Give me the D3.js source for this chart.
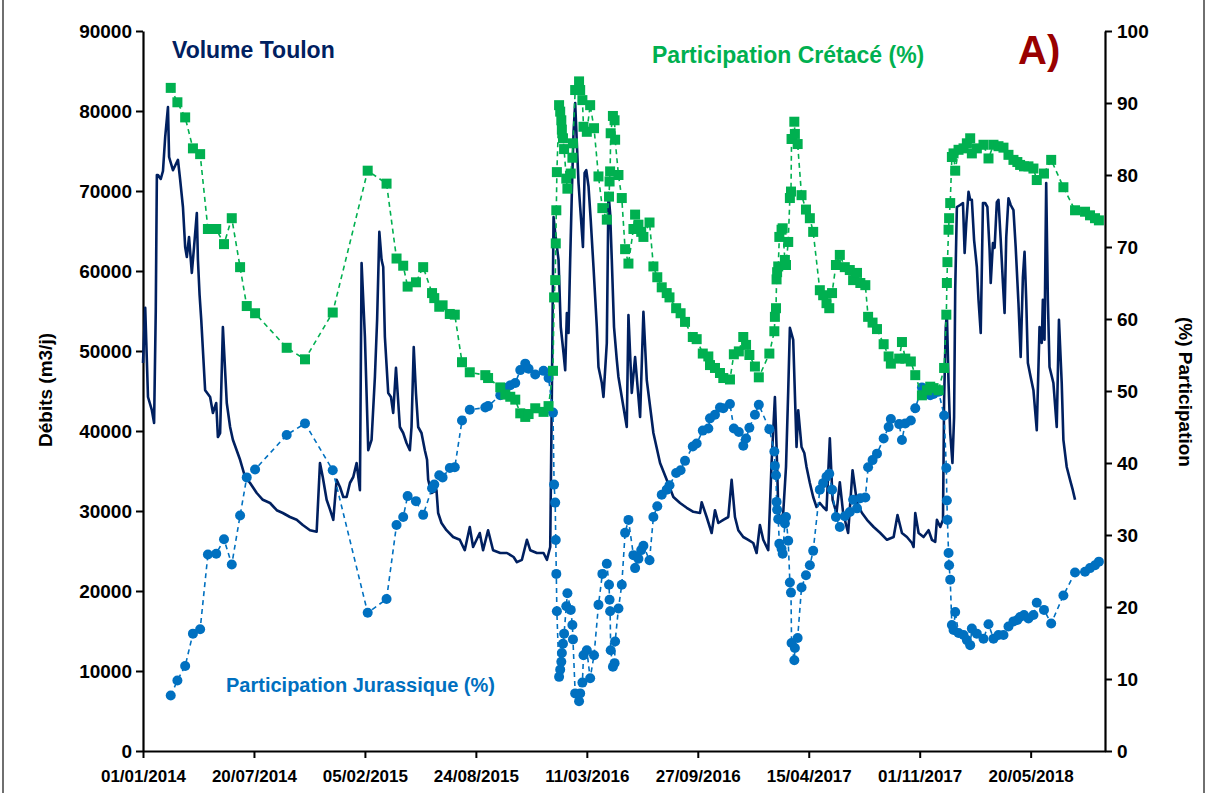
<!DOCTYPE html>
<html>
<head>
<meta charset="utf-8">
<script src="https://cdn.jsdelivr.net/npm/d3@7"></script>
<style>
  body { margin: 0; background: #fff; }
  svg text { font-family: "Liberation Sans", Arial, sans-serif; font-weight: bold; }
</style>
</head>
<body>
<svg id="chart" width="1208" height="793"></svg>
<script>
// jours depuis le 01/01/2014
var joursVolume = [0,4,9,16,20,23,25,27,32,36,40,45,47,54,63,67,72,76,79,83,88,92,97,99,102,105,112,121,126,132,135,139,144,151,157,162,175,184,193,205,216,229,241,252,265,277,288,301,313,319,324,331,337,343,349,355,361,367,373,379,385,391,394,400,406,412,418,422,426,430,433,436,442,447,451,456,459,463,469,475,481,484,488,492,496,502,508,512,514,520,529,532,538,547,559,571,580,589,595,607,613,622,631,644,656,668,674,683,692,698,710,722,728,734,737,740,743,749,753,758,761,764,767,770,773,776,779,782,785,788,793,796,799,803,807,812,818,821,827,830,836,839,842,845,849,854,857,866,872,875,881,887,896,902,908,920,932,944,956,968,980,992,1004,1007,1016,1025,1031,1037,1046,1055,1061,1067,1073,1082,1091,1100,1106,1112,1118,1127,1133,1139,1142,1145,1148,1154,1159,1163,1166,1172,1178,1181,1187,1192,1196,1202,1208,1214,1220,1226,1232,1238,1243,1250,1256,1262,1271,1279,1287,1296,1305,1317,1329,1341,1353,1360,1368,1377,1386,1389,1392,1398,1407,1416,1422,1428,1431,1437,1442,1444,1447,1449,1452,1455,1459,1462,1464,1467,1473,1478,1481,1484,1488,1491,1494,1498,1503,1506,1510,1514,1518,1522,1526,1528,1532,1535,1539,1542,1546,1550,1553,1556,1560,1564,1569,1573,1578,1582,1586,1589,1592,1595,1600,1605,1611,1616,1620,1622,1625,1628,1631,1634,1641,1647,1651,1656,1659,1665,1671,1676,1680];
var volumeToulon = [48500,55400,44250,42600,41000,55000,72000,72000,71500,72500,76750,80500,74250,72600,73900,71400,68000,63000,61750,64250,59750,63000,67250,61400,57000,53900,45100,44250,42250,43500,39250,39750,53000,43500,40500,38900,36400,34250,33500,32250,31400,31000,30100,29750,29250,28900,28250,27600,27400,36000,34250,31400,30200,28900,33900,33000,31750,31750,33500,34250,36000,32600,61000,51750,37600,38900,46750,53900,64900,61400,60500,51750,44750,44250,42250,47900,44750,40500,39750,38500,37600,40500,50500,44750,40500,39750,37600,36400,33900,32250,32600,29750,28500,27600,26750,26400,25100,28000,25500,27250,25100,27600,25100,24750,24750,24250,23600,23900,26400,25100,24750,24750,23900,25500,45000,66750,64750,61400,53000,49750,47600,54750,52250,61400,69750,77250,81000,76000,71000,68000,63000,72250,72600,70600,66400,60500,53000,48000,46000,44250,51000,69750,67250,61400,53000,48900,46750,43000,40500,54500,44750,49250,41750,54900,46400,39750,36000,33900,31750,31000,30400,29900,29750,31100,29250,27250,30100,28500,28900,29250,33900,29250,27600,26750,26400,26000,24750,28250,26400,25100,36000,44250,38000,30500,28500,29750,35500,45000,52900,51400,38000,42600,38000,37250,35500,33500,31750,30500,31000,30500,30100,39100,31400,29750,33600,29750,27250,35100,31000,29750,28900,28000,27250,26400,26750,29500,27250,26750,26000,25500,29750,27250,26750,27600,26400,26150,28900,28000,28900,43900,53000,54750,46000,39750,36000,41750,57600,68000,68250,68500,62250,66000,69900,68900,68900,63900,60500,56400,52250,68500,68500,68000,62600,58500,63500,62900,68600,68900,63900,58500,54750,64250,69100,68250,67600,63000,56000,49250,59250,62400,56400,48500,46750,45100,40100,53000,51000,56400,51400,71000,56400,48000,46000,40500,53900,46000,38900,35500,33900,32600,31400];

var joursPart = [50,62,76,90,103,117,132,146,160,175,187,202,259,292,342,405,439,457,469,477,492,505,521,525,534,540,553,562,575,589,617,622,644,653,662,671,680,689,695,707,722,731,739,741,743,744,745,746,750,752,754,755,757,759,763,765,771,774,775,779,786,788,792,794,800,806,813,821,828,836,840,841,842,843,847,850,851,857,863,869,875,884,887,893,898,902,913,920,927,935,944,949,961,969,977,991,998,1009,1019,1022,1031,1040,1046,1058,1065,1074,1082,1087,1093,1103,1110,1129,1138,1139,1141,1142,1143,1145,1147,1151,1153,1157,1159,1163,1166,1168,1169,1174,1175,1180,1187,1195,1202,1208,1220,1226,1232,1237,1242,1249,1256,1265,1274,1280,1287,1293,1302,1307,1315,1323,1335,1344,1348,1363,1368,1374,1384,1392,1404,1413,1419,1425,1434,1444,1448,1449,1450,1452,1453,1455,1458,1461,1464,1470,1479,1485,1491,1494,1503,1515,1524,1533,1542,1551,1560,1569,1576,1581,1588,1596,1605,1611,1624,1637,1659,1680,1698,1707,1716,1723];
var partCretace = [92.1,90.1,88.0,83.7,82.9,72.5,72.5,70.4,74.0,67.2,61.8,60.8,56.0,54.4,60.9,80.6,78.8,68.4,67.4,64.5,65.1,67.2,63.6,62.9,61.7,61.9,60.7,60.6,54.0,52.6,52.2,51.8,50.5,49.5,49.2,48.8,46.9,46.4,46.8,47.6,47.1,47.9,52.8,63.0,65.4,70.5,75.1,80.4,89.7,88.8,87.6,86.3,85.1,83.6,79.5,78.1,80.2,82.4,84.4,91.8,93.0,91.8,90.4,86.7,86.0,89.7,86.5,79.8,75.4,73.8,77.0,79.1,80.5,85.8,88.2,87.6,84.9,80.0,76.8,69.7,67.7,72.5,74.5,73.1,72.1,71.4,73.4,67.3,65.8,64.4,63.6,63.0,61.5,60.8,59.6,57.5,57.2,55.2,54.8,53.6,53.2,52.5,51.8,51.6,55.1,55.5,57.5,56.4,55.0,53.4,51.9,55.2,58.3,60.3,61.5,65.5,66.5,67.3,71.4,72.4,72.6,68.2,67.5,70.7,76.8,77.7,85.0,87.4,85.7,84.3,77.2,75.2,74.0,72.1,64.0,63.3,62.2,61.5,63.6,67.5,68.9,67.2,66.8,65.4,66.4,65.0,64.7,60.3,59.5,58.6,56.5,54.8,53.8,54.5,56.8,54.5,54.1,52.2,49.4,50.1,50.6,50.4,50.1,53.2,60.6,65.0,67.9,72.4,74.0,76.1,82.5,83.0,80.6,83.5,83.7,84.4,85.1,83.0,83.7,84.2,82.3,84.2,84.0,83.8,82.8,82.1,81.8,81.4,81.2,81.2,80.9,79.3,80.2,82.1,78.3,75.1,74.9,74.4,74.0,73.7];
var partJurassique = [7.7,9.8,11.8,16.3,16.9,27.3,27.4,29.4,25.9,32.7,38.0,39.1,43.9,45.5,39.0,19.2,21.1,31.4,32.5,35.4,34.7,32.8,36.5,37.0,38.3,38.0,39.3,39.4,45.9,47.4,47.7,47.9,49.4,50.4,50.8,51.1,52.9,53.8,53.1,52.3,52.8,51.8,47.0,37.0,34.5,29.3,24.6,19.4,10.3,11.3,12.4,13.6,14.9,16.3,20.1,21.9,19.6,17.5,15.5,8.0,6.9,8.0,9.5,13.3,14.0,10.1,13.3,20.3,24.6,26.0,23.1,21.0,19.4,14.0,11.7,12.2,15.2,19.8,23.1,30.3,32.1,27.2,25.4,26.7,27.9,28.5,26.5,32.5,34.0,35.6,36.3,36.9,38.6,39.0,40.3,42.3,42.7,44.5,44.8,46.2,46.7,47.7,47.6,48.2,44.8,44.3,42.4,43.4,44.9,46.7,48.1,44.7,41.6,39.6,38.3,34.6,33.5,32.2,28.8,28.1,27.4,31.6,32.5,29.2,23.4,22.0,15.0,12.6,14.3,15.7,22.7,24.4,25.8,27.8,36.3,37.2,38.1,38.5,36.3,32.5,31.1,32.6,33.2,34.9,33.7,35.1,35.2,39.4,40.4,41.3,43.4,45.0,46.1,45.4,43.2,45.5,45.9,47.6,50.5,49.9,49.4,49.6,49.9,46.6,39.3,34.8,32.1,27.5,25.8,23.8,17.5,16.8,19.3,16.4,16.1,15.4,14.7,17.0,16.3,15.6,17.6,15.6,16.1,16.1,17.3,18.0,18.2,18.6,18.9,18.4,18.9,20.6,19.6,17.7,21.6,24.8,24.9,25.4,25.8,26.3];

var ticksGauche = [0,10000,20000,30000,40000,50000,60000,70000,80000,90000];
var ticksDroite = [0,10,20,30,40,50,60,70,80,90,100];
var ticksJours = [0,200,400,600,800,1000,1200,1400,1600];

var debut = new Date(2014, 0, 1);
var jourEnDate = function(j) { return d3.timeDay.offset(debut, j); };

var margin = {left: 143, right: 103, top: 31, bottom: 42};
var W = 1208, H = 793;

var svg = d3.select("#chart");

// cadre du graphique
svg.append("rect")
  .attr("x", 3).attr("y", -5)
  .attr("width", 1201).attr("height", 803)
  .attr("fill", "none")
  .attr("stroke", "#404040")
  .attr("stroke-width", 1.5);

var x = d3.scaleTime()
  .domain([debut, jourEnDate(1734)])
  .range([margin.left, W - margin.right]);
var yG = d3.scaleLinear().domain([0, 90000]).range([H - margin.bottom, margin.top]);
var yD = d3.scaleLinear().domain([0, 100]).range([H - margin.bottom, margin.top]);

var fmt = d3.timeFormat("%d/%m/%Y");

// axes
var axeX = svg.append("g")
  .attr("transform", "translate(0," + (H - margin.bottom) + ")")
  .call(d3.axisBottom(x).tickValues(ticksJours.map(jourEnDate)).tickFormat(fmt).tickSize(7).tickSizeOuter(0));
axeX.selectAll("text").attr("y", 19).attr("dy", "0.71em").style("font-size", "17px").attr("fill", "#000");

var axeG = svg.append("g")
  .attr("transform", "translate(" + margin.left + ",0)")
  .call(d3.axisLeft(yG).tickValues(ticksGauche).tickFormat(d3.format("d")).tickSize(7).tickSizeOuter(0));
axeG.selectAll("text").attr("x", -11).style("font-size", "19px").attr("fill", "#000");

var axeD = svg.append("g")
  .attr("transform", "translate(" + (W - margin.right) + ",0)")
  .call(d3.axisRight(yD).tickValues(ticksDroite).tickSize(7).tickSizeOuter(0));
axeD.selectAll("text").attr("x", 12).style("font-size", "19px").attr("fill", "#000");

svg.selectAll(".domain").attr("stroke", "#000").attr("stroke-width", 2.2);
svg.selectAll(".tick line").attr("stroke", "#000").attr("stroke-width", 2);

// courbe de débit
var volume = joursVolume.map(function(j, i) { return {d: jourEnDate(j), v: volumeToulon[i]}; });
var lineV = d3.line().x(function(d) { return x(d.d); }).y(function(d) { return yG(d.v); });
svg.append("path")
  .datum(volume)
  .attr("d", lineV)
  .attr("fill", "none")
  .attr("stroke", "#002060")
  .attr("stroke-width", 2.6)
  .attr("stroke-linejoin", "round");

// participations
var part = joursPart.map(function(j, i) {
  return {d: jourEnDate(j), c: partCretace[i], j: partJurassique[i]};
});

var lineC = d3.line().x(function(d) { return x(d.d); }).y(function(d) { return yD(d.c); });
var lineJ = d3.line().x(function(d) { return x(d.d); }).y(function(d) { return yD(d.j); });

svg.append("path").datum(part).attr("d", lineJ)
  .attr("fill", "none").attr("stroke", "#0070C0")
  .attr("stroke-width", 1.6).attr("stroke-dasharray", "5,4");
svg.append("g").selectAll("circle").data(part).enter().append("circle")
  .attr("cx", function(d) { return x(d.d); })
  .attr("cy", function(d) { return yD(d.j); })
  .attr("r", 5)
  .attr("fill", "#0070C0");

svg.append("path").datum(part).attr("d", lineC)
  .attr("fill", "none").attr("stroke", "#00B050")
  .attr("stroke-width", 1.6).attr("stroke-dasharray", "5,4");
svg.append("g").selectAll("rect").data(part).enter().append("rect")
  .attr("x", function(d) { return x(d.d) - 5; })
  .attr("y", function(d) { return yD(d.c) - 5; })
  .attr("width", 10).attr("height", 10)
  .attr("fill", "#00B050");

// titres des axes
svg.append("text")
  .attr("transform", "translate(52,390) rotate(-90)")
  .attr("text-anchor", "middle")
  .style("font-size", "19px")
  .text("Débits (m3/j)");
svg.append("text")
  .attr("transform", "translate(1179,392) rotate(90)")
  .attr("text-anchor", "middle")
  .style("font-size", "19px")
  .text("(%) Participation");

// étiquettes
svg.append("text").attr("x", 172).attr("y", 58)
  .attr("fill", "#002060").style("font-size", "23px").text("Volume Toulon");
svg.append("text").attr("x", 652).attr("y", 63)
  .attr("fill", "#00B050").style("font-size", "23px").text("Participation Crétacé (%)");
svg.append("text").attr("x", 226).attr("y", 692)
  .attr("fill", "#0070C0").style("font-size", "20px").text("Participation Jurassique (%)");
svg.append("text").attr("x", 1018).attr("y", 64)
  .attr("fill", "#990000").style("font-size", "40px").text("A)");
</script>
</body>
</html>
